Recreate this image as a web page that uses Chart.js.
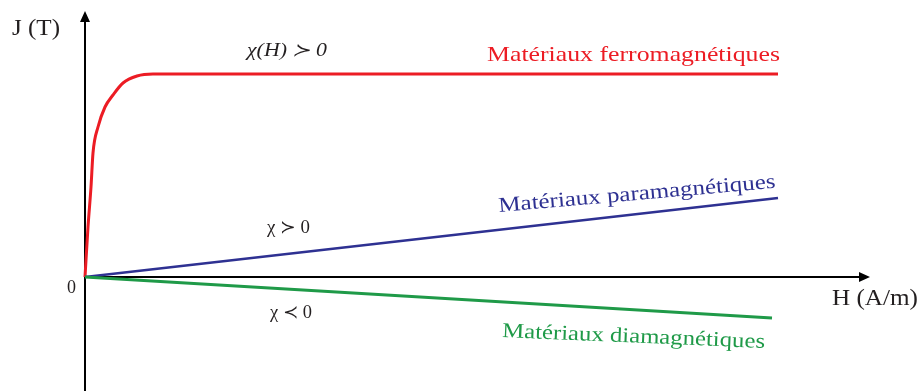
<!DOCTYPE html>
<html>
<head>
<meta charset="utf-8">
<script src="https://cdn.jsdelivr.net/npm/chart.js@4"></script>
<style>
  body { margin: 0; background: #fff; }
</style>
</head>
<body>
<canvas id="myChart" width="920" height="391"></canvas>
<script>
// H (x) and J (y), arbitrary units
const ferroH = [0, 3, 6, 8, 13, 20, 28, 38, 52, 68, 95, 693];
const ferroJ = [0, 50, 90, 124, 150, 170, 182, 194, 201, 203, 203, 203];
const paraH = [0, 693];
const paraJ = [0, 79];
const diaH = [0, 687];
const diaJ = [0, -41];

const redColor = '#ec1c24';
const blueColor = '#2e3192';
const greenColor = '#1f9a48';
const inkColor = '#231f20';
const serifFont = '"Liberation Serif", serif';

// text on the drawing: h/j are the left end of the baseline in data units
const notes = [
    { text: 'J (T)', h: -73, j: 242, size: 24, width: 48, angle: 0, color: inkColor },
    { text: 'H (A/m)', h: 747, j: -28, size: 24, width: 86, angle: 0, color: inkColor },
    { text: '0', h: -18, j: -16, size: 18, width: 9, angle: 0, color: inkColor },
    { text: 'χ(H) ≻ 0', h: 162, j: 221, size: 18, width: 80, angle: 0, color: inkColor, italic: true },
    { text: 'χ ≻ 0', h: 182, j: 44, size: 18, width: 43, angle: 0, color: inkColor },
    { text: 'χ ≺ 0', h: 185, j: -41, size: 18, width: 42, angle: 0, color: inkColor },
    { text: 'Matériaux ferromagnétiques', h: 402, j: 216, size: 21, width: 293, angle: 0, color: redColor },
    { text: 'Matériaux paramagnétiques', h: 414, j: 65, size: 21, width: 278, angle: -5, color: blueColor },
    { text: 'Matériaux diamagnétiques', h: 417, j: -60, size: 21, width: 263, angle: 2.4, color: greenColor }
];

function toPoints(xs, ys) {
    return xs.map((v, i) => ({ x: v, y: ys[i] }));
}

// axes with arrow heads, drawn under the curves
const axesPlugin = {
    id: 'axes',
    beforeDatasetsDraw(chart) {
        const { ctx, scales: { x, y } } = chart;
        const x0 = x.getPixelForValue(0);
        const y0 = y.getPixelForValue(0);
        const yTop = y.getPixelForValue(266);
        const yBottom = y.getPixelForValue(-114);
        const xEnd = x.getPixelForValue(785);
        ctx.save();
        ctx.strokeStyle = '#000';
        ctx.fillStyle = '#000';
        ctx.lineWidth = 2;
        ctx.beginPath();
        ctx.moveTo(x0, yBottom);
        ctx.lineTo(x0, yTop + 8);
        ctx.moveTo(x0, y0);
        ctx.lineTo(xEnd - 8, y0);
        ctx.stroke();
        ctx.beginPath();
        ctx.moveTo(x0, yTop);
        ctx.lineTo(x0 - 5, yTop + 11);
        ctx.lineTo(x0 + 5, yTop + 11);
        ctx.closePath();
        ctx.moveTo(xEnd, y0);
        ctx.lineTo(xEnd - 11, y0 - 5);
        ctx.lineTo(xEnd - 11, y0 + 5);
        ctx.closePath();
        ctx.fill();
        ctx.restore();
    }
};

const notesPlugin = {
    id: 'notes',
    afterDatasetsDraw(chart) {
        const { ctx, scales: { x, y } } = chart;
        notes.forEach(n => {
            ctx.save();
            ctx.font = (n.italic ? 'italic ' : '') + n.size + 'px ' + serifFont;
            ctx.fillStyle = n.color;
            ctx.textAlign = 'left';
            ctx.textBaseline = 'alphabetic';
            ctx.translate(x.getPixelForValue(n.h), y.getPixelForValue(n.j));
            ctx.rotate(n.angle * Math.PI / 180);
            const w = ctx.measureText(n.text).width;
            ctx.scale(n.width / w, 1);
            ctx.fillText(n.text, 0, 0);
            ctx.restore();
        });
    }
};

function drawChart() {
    const ctx = document.getElementById('myChart').getContext('2d');
    new Chart(ctx, {
        type: 'line',
        data: {
            datasets: [
                {
                    label: 'Matériaux diamagnétiques',
                    data: toPoints(diaH, diaJ),
                    borderColor: greenColor,
                    borderWidth: 3,
                    tension: 0
                },
                {
                    label: 'Matériaux paramagnétiques',
                    data: toPoints(paraH, paraJ),
                    borderColor: blueColor,
                    borderWidth: 2.6,
                    tension: 0
                },
                {
                    label: 'Matériaux ferromagnétiques',
                    data: toPoints(ferroH, ferroJ),
                    borderColor: redColor,
                    borderWidth: 3,
                    cubicInterpolationMode: 'monotone'
                }
            ]
        },
        options: {
            responsive: false,
            animation: false,
            layout: { padding: 0 },
            elements: { point: { radius: 0 } },
            plugins: {
                legend: { display: false },
                tooltip: { enabled: false }
            },
            scales: {
                x: { type: 'linear', min: -85, max: 835, display: false },
                y: { type: 'linear', min: -114, max: 277, display: false }
            }
        },
        plugins: [axesPlugin, notesPlugin]
    });
}

Promise.all([
    document.fonts.load('21px ' + serifFont),
    document.fonts.load('italic 18px ' + serifFont)
]).then(drawChart, drawChart);
</script>
</body>
</html>
